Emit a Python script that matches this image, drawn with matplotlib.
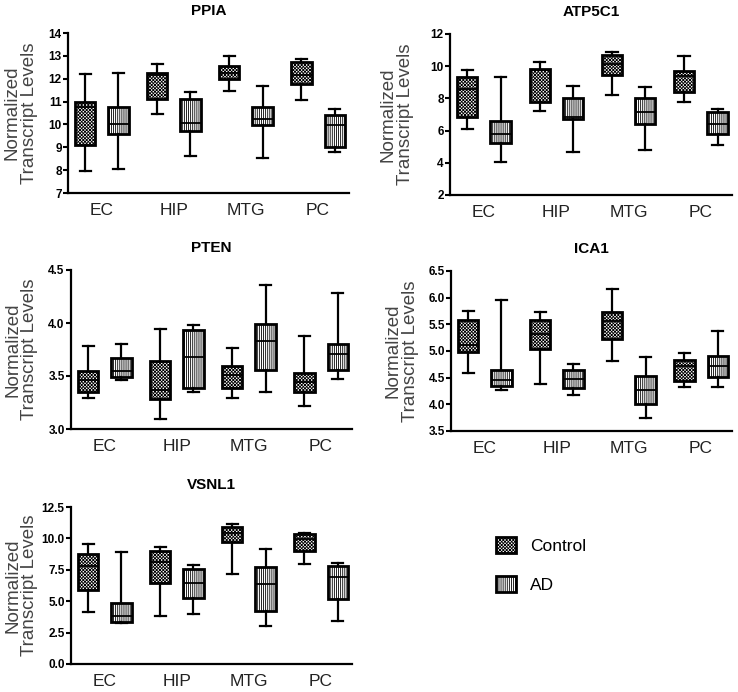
import matplotlib
matplotlib.use("Agg")
import matplotlib.pyplot as plt
from matplotlib.patches import Patch

plt.rcParams['font.family'] = ['Liberation Sans', 'DejaVu Sans']
plt.rcParams['hatch.linewidth'] = 0.6

regions = ["EC", "HIP", "MTG", "PC"]
groups = ["Control", "AD"]

# five-number summaries per region: [lower whisker, Q1, median, Q3, upper whisker]
ppia_control = [[7.97, 9.10, 10.78, 11.00, 12.21], [10.46, 11.12, 12.17, 12.27, 12.64],
                [11.48, 11.98, 12.27, 12.54, 13.00], [11.07, 11.76, 12.17, 12.71, 12.86]]
ppia_ad = [[8.06, 9.58, 10.00, 10.75, 12.27], [8.63, 9.71, 10.08, 11.10, 11.40],
           [8.55, 9.97, 10.22, 10.78, 11.70], [8.80, 9.02, 9.96, 10.41, 10.66]]
atp5c1_control = [[6.08, 6.86, 8.60, 9.33, 9.77], [7.21, 7.76, 9.75, 9.83, 10.29],
                  [8.22, 9.48, 10.13, 10.69, 10.86], [7.80, 8.37, 9.39, 9.71, 10.61]]
atp5c1_ad = [[4.07, 5.20, 5.81, 6.57, 9.35], [4.70, 6.71, 6.84, 8.03, 8.74],
             [4.81, 6.44, 7.15, 8.03, 8.70], [5.12, 5.81, 6.40, 7.13, 7.32]]
pten_control = [[3.29, 3.35, 3.46, 3.55, 3.78], [3.09, 3.28, 3.37, 3.64, 3.94],
                [3.29, 3.39, 3.51, 3.59, 3.76], [3.22, 3.35, 3.44, 3.53, 3.88]]
pten_ad = [[3.46, 3.49, 3.55, 3.67, 3.80], [3.35, 3.39, 3.68, 3.93, 3.98],
           [3.35, 3.56, 3.83, 3.99, 4.36], [3.47, 3.56, 3.71, 3.80, 4.28]]
ica1_control = [[4.59, 4.99, 5.11, 5.59, 5.75], [4.38, 5.03, 5.31, 5.59, 5.74],
                [4.81, 5.23, 5.56, 5.73, 6.16], [4.33, 4.43, 4.71, 4.84, 4.96]]
ica1_ad = [[4.27, 4.34, 4.45, 4.64, 5.95], [4.18, 4.31, 4.48, 4.64, 4.76],
           [3.74, 4.00, 4.26, 4.53, 4.89], [4.33, 4.51, 4.72, 4.91, 5.37]]
vsnl1_control = [[4.13, 5.93, 7.81, 8.79, 9.53], [3.79, 6.41, 8.10, 9.00, 9.30],
                 [7.15, 9.69, 10.43, 10.91, 11.12], [7.97, 8.98, 9.96, 10.33, 10.46]]
vsnl1_ad = [[3.23, 3.34, 3.84, 4.82, 8.92], [3.95, 5.22, 6.46, 7.60, 7.87],
            [3.02, 4.21, 6.36, 7.71, 9.16], [3.39, 5.19, 6.89, 7.79, 8.05]]

titles = ["PPIA", "ATP5C1", "PTEN", "ICA1", "VSNL1"]
control_data = [ppia_control, atp5c1_control, pten_control, ica1_control, vsnl1_control]
ad_data = [ppia_ad, atp5c1_ad, pten_ad, ica1_ad, vsnl1_ad]
yticks = [[7, 8, 9, 10, 11, 12, 13, 14],
          [2, 4, 6, 8, 10, 12],
          [3.0, 3.5, 4.0, 4.5],
          [3.5, 4.0, 4.5, 5.0, 5.5, 6.0, 6.5],
          [0.0, 2.5, 5.0, 7.5, 10.0, 12.5]]
ytick_fmt = ["{:.0f}", "{:.0f}", "{:.1f}", "{:.1f}", "{:.1f}"]

W, H = 738, 692
# panel boxes in pixels: left, top, right, bottom
rects_px = [(68, 33, 349, 193), (450, 34, 732, 195), (71, 270, 352, 429),
            (451, 271, 732, 431), (71, 507, 352, 664)]
label_x = [-0.107, -0.128, -0.117, -0.114, -0.117]

fig = plt.figure(figsize=(W / 100, H / 100), dpi=100)

hatches = ['xxxxxxxxxx', '||||||||']
offsets = [-0.23, 0.23]


def stats_from(summary):
    out = []
    for lo, q1, med, q3, hi in summary:
        out.append(dict(whislo=lo, q1=q1, med=med, q3=q3, whishi=hi, fliers=[]))
    return out


for i, title in enumerate(titles):
    l, t, r, b = rects_px[i]
    ax = fig.add_axes([l / W, 1 - b / H, (r - l) / W, (b - t) / H])
    for g, data in enumerate([control_data[i], ad_data[i]]):
        pos = [k + 1 + offsets[g] for k in range(len(regions))]
        bp = ax.bxp(stats_from(data), positions=pos, widths=0.28, capwidths=0.16,
                    patch_artist=True, showfliers=False, manage_ticks=False,
                    boxprops=dict(facecolor='white', edgecolor='black', linewidth=2.0),
                    whiskerprops=dict(color='black', linewidth=1.6),
                    capprops=dict(color='black', linewidth=1.6),
                    medianprops=dict(color='black', linewidth=1.3))
        for patch in bp['boxes']:
            patch.set_hatch(hatches[g])
    ax.set_xlim(0.53, 4.43)
    ax.set_ylim(yticks[i][0], yticks[i][-1])
    ax.set_xticks(range(1, len(regions) + 1))
    ax.set_xticklabels(regions, fontsize=12.5, color='#222222')
    ax.set_yticks(yticks[i])
    ax.set_yticklabels([ytick_fmt[i].format(v) for v in yticks[i]], fontsize=8.5,
                       fontweight='bold')
    ax.tick_params(axis='x', length=0, pad=7)
    ax.tick_params(axis='y', length=3.5, width=1.5, pad=1)
    for s in ['top', 'right']:
        ax.spines[s].set_visible(False)
    for s in ['left', 'bottom']:
        ax.spines[s].set_linewidth(1.6)
    ax.set_title(title, fontsize=11, fontweight='bold', pad=13)
    ax.set_ylabel("Normalized\nTranscript Levels", fontsize=13.5, color='#444444',
                  linespacing=1.0)
    ax.yaxis.set_label_coords(label_x[i], 0.5)

handles = [Patch(facecolor='white', edgecolor='black', hatch=hatches[0], linewidth=2.0),
           Patch(facecolor='white', edgecolor='black', hatch=hatches[1], linewidth=2.0)]
fig.legend(handles, groups, loc='upper left', bbox_to_anchor=(496 / W, 1 - 537 / H),
           frameon=False, fontsize=12.5, handlelength=1.15, handleheight=1.0,
           labelspacing=1.3, handletextpad=0.8, borderpad=0, borderaxespad=0)

fig.savefig("out.png", dpi=100)
